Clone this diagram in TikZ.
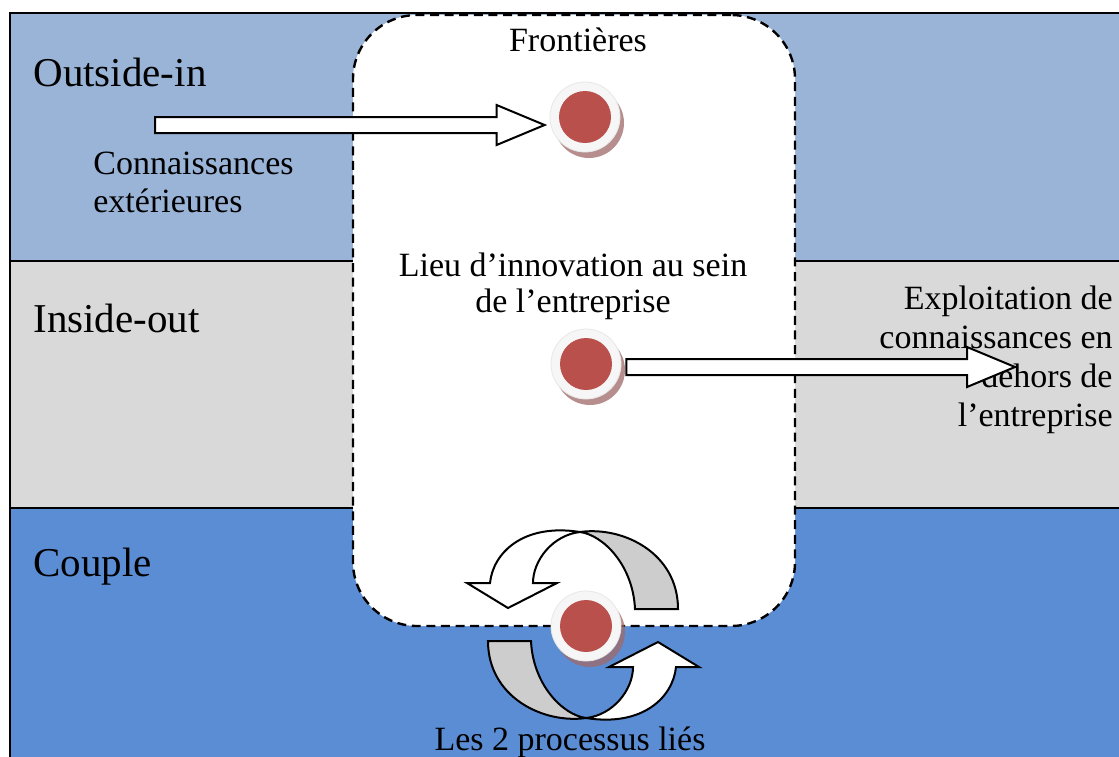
\documentclass[tikz,border=0pt]{standalone}
\usepackage{fontspec}
\setmainfont{Liberation Serif}
\usepackage{tikz}
\usetikzlibrary{positioning, calc, shadows}
\definecolor{outsideblue}{RGB}{154,180,216}
\definecolor{insidegray}{RGB}{217,217,217}
\definecolor{coupleblue}{RGB}{91,141,213}
\definecolor{dotred}{RGB}{185,80,76}
\definecolor{shadowbrown}{RGB}{160,105,105}
\definecolor{backgray}{RGB}{205,205,205}

% fleche creuse horizontale : queue, pointe
\newcommand{\blockarrow}[2]{%
  \draw[hollow] ($(#1)+(0,-8)$) -- ($(#2)+(-48,-8)$) -- ($(#2)+(-48,-20)$) -- (#2)
    -- ($(#2)+(-48,20)$) -- ($(#2)+(-48,8)$) -- ($(#1)+(0,8)$) -- cycle;}

% demi-fleche circulaire vrillee
\newcommand{\twistarrow}{%
  \filldraw[back] (95,-16) .. controls (95,-72) and (40,-99) .. (-3,-93)
    .. controls (20,-90) and (50,-60) .. (52,-16) -- cycle;
  \filldraw[hollow] (-3,-93) .. controls (-60,-102) and (-90,-72) .. (-93,-42)
    -- (-116,-42) -- (-75,-17) -- (-26,-42) -- (-50,-42)
    .. controls (-50,-65) and (-30,-90) .. (-3,-93) -- cycle;}

\begin{document}
\begin{tikzpicture}[
        x=0.5pt, y=-0.5pt,
        band/.style={draw=black, line width=1.1pt},
        label/.style={font=\fontsize{20.5}{24}\selectfont, anchor=west, inner sep=0},
        txt/.style={font=\fontsize{17}{19}\selectfont, inner sep=0, align=center},
        dot/.style={circle, minimum size=35pt, inner sep=0, fill=gray!7, draw=gray!18,
            drop shadow={shadow xshift=2pt, shadow yshift=-3pt, fill=shadowbrown, opacity=0.75},
            path picture={\fill[dotred] (path picture bounding box.center) circle (13pt);}},
        hollow/.style={draw=black, line width=1pt, fill=white, line join=miter},
        back/.style={draw=black, line width=1pt, fill=backgray},
        border/.style={draw=black, line width=1.2pt, dash pattern=on 4.5pt off 2.8pt,
            fill=white, rounded corners=32pt}
    ]
    \useasboundingbox (0,0) rectangle (1119,756);

    % bandes
    \filldraw[band, fill=outsideblue] (10,13) rectangle (1140,261);
    \filldraw[band, fill=insidegray] (10,261) rectangle (1140,508);
    \filldraw[band, fill=coupleblue] (10,508) rectangle (1140,780);

    % frontieres de l'entreprise
    \node[border, minimum width=221pt, minimum height=305.5pt] (frontier) at (574,320.5) {};
    \node[txt] (frontlbl) at (578,40) {Frontières};

    % textes
    \node[label] (outlbl) at (33,72) {Outside-in};
    \node[label] (inlbl) at (33,318) {Inside-out};
    \node[label] (couplelbl) at (33,567) {Couple};
    \node[txt, align=left, anchor=west] (exttxt) at (93,182) {Connaissances\\extérieures};
    \node[txt, font=\fontsize{17}{18}\selectfont] (lieu) at (573,286) {Lieu d’innovation au sein\\de l’entreprise};
    \node[txt, align=right, anchor=east, font=\fontsize{17}{19.5}\selectfont] (exploit) at (1113,360)
        {Exploitation de\\connaissances en\\dehors de\\l’entreprise};
    \node[txt] (lies) at (570,742) {Les 2 processus liés};

    % points
    \node[dot] (dot1) at (585,117) {};
    \node[dot] (dot2) at (586,364) {};

    % fleches
    \coordinate (intail) at (155,125);
    \coordinate[left=2.5pt of dot1.west, yshift=-4pt] (intip);
    \blockarrow{intail}{intip}
    \coordinate[right=2.5pt of dot2.east, yshift=-1.5pt] (outtail);
    \coordinate (outtip) at (1015,367);
    \blockarrow{outtail}{outtip}

    % processus couples
    \begin{scope}[shift={(583,625)}]
        \twistarrow
    \end{scope}
    \begin{scope}[shift={(583,625)}, rotate=180]
        \twistarrow
    \end{scope}
    \node[dot] (dot3) at (586,626) {};

\end{tikzpicture}
\end{document}
